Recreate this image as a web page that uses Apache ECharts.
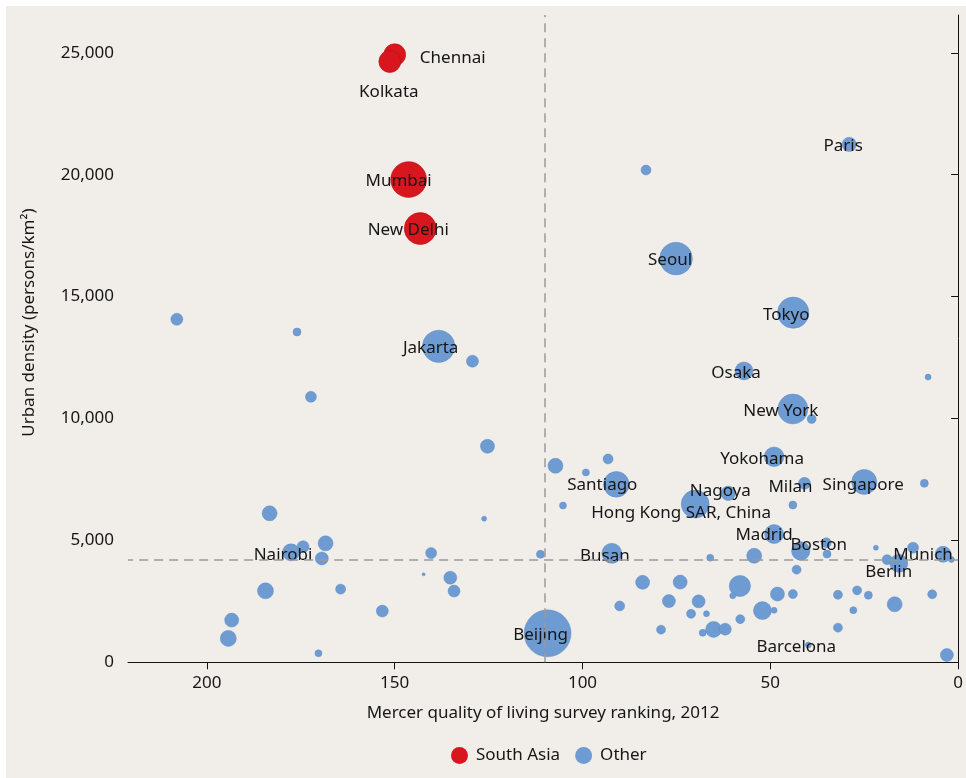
<!DOCTYPE html>
<html>
<head>
<meta charset="utf-8">
<script src="https://cdn.jsdelivr.net/npm/echarts@6/dist/echarts.min.js"></script>
<style>
html,body{margin:0;padding:0;background:#ffffff;width:966px;height:778px;overflow:hidden;}
#chart{position:absolute;left:6px;top:6px;width:960px;height:772px;background:#f1eee9;}
</style>
</head>
<body>
<div id="chart"></div>
<script>
// ---- Data ----
const xTicks = [0, 50, 100, 150, 200];
const yTicks = [0, 5000, 10000, 15000, 20000, 25000];
const refRank = 110;
const refDensity = 4200;

// South Asia
const saNames   = ['Chennai', 'Kolkata', 'Mumbai', 'New Delhi'];
const saRank    = [150, 151.3, 146.3, 143.2];
const saDensity = [24920, 24640, 19800, 17790];
const saPop     = [4.8, 4.8, 12.8, 10.2];

// Other (one name per point; '' = unlabelled)
const otNames = [
  '', '', '', '', 'Nairobi', '', '', '', '', '', '', '',
  'Jakarta', '', '', '', '', '', '', '', '', '', '', 'Beijing',
  'Paris', '', 'Seoul', 'Tokyo', 'Osaka', '', 'New York', '',
  '', '', '', 'Santiago', '', 'Hong Kong SAR, China', 'Nagoya', 'Busan',
  '', '', '', '', '', '', '', '', '', '', '', '', '', '', '', '', '',
  'Yokohama', 'Milan', 'Singapore', '', '', 'Madrid', 'Boston', '', '', '', '', '',
  'Berlin', 'Munich', '', '', '', '', '', '', '', '', '', '', '', '', 'Barcelona', ''];
const otRank = [
  208, 176, 172.3, 183.3, 177.6, 174.4, 168.4, 169.4, 184.4, 193.4, 194.3, 170.3,
  138.3, 129.3, 125.3, 126.2, 140.3, 111.2, 142.3, 135.2, 134.2, 164.4, 153.3, 109.3,
  29, 83.1, 75.1, 43.9, 57, 8, 44, 39,
  107.2, 93.2, 99.1, 91, 105.2, 70, 61.2, 92.2,
  66, 54.3, 84, 74, 58.1, 60, 90.1, 77, 69.1, 71.1, 67, 58, 52.1, 79.1, 68, 65.1, 62,
  49, 40.9, 25, 9, 44, 49, 41.9, 35.1, 34.9, 21.9, 12, 18.9,
  15.8, 4.0, 1.8, 43, 48.1, 44, 32, 26.9, 23.9, 16.9, 6.9, 49, 27.9, 32, 39.9, 3];
const otDensity = [
  14070, 13550, 10890, 6110, 4510, 4740, 4880, 4260, 2930, 1730, 980, 370,
  12960, 12350, 8860, 5890, 4480, 4430, 3610, 3470, 2920, 3000, 2100, 1190,
  21240, 20190, 16560, 14340, 11950, 11700, 10390, 9980,
  8060, 8340, 7790, 7300, 6430, 6490, 6930, 4470,
  4290, 4370, 3280, 3290, 3130, 2730, 2310, 2510, 2500, 1990, 1990, 1770, 2120, 1340, 1210, 1350, 1360,
  8430, 7340, 7400, 7340, 6450, 5260, 4570, 4900, 4440, 4700, 4700, 4210,
  4060, 4430, 4220, 3800, 2800, 2800, 2770, 2950, 2750, 2380, 2790, 2130, 2140, 1420, 710, 300];
const otPop = [
  1.44, 0.64, 1.21, 2.25, 2.9, 1.44, 2.25, 1.69, 2.56, 1.96, 2.56, 0.49,
  10.5, 1.44, 1.96, 0.25, 1.21, 0.64, 0.09, 1.69, 1.44, 1.0, 1.44, 22,
  2.05, 1.0, 10.7, 9.8, 3.24, 0.36, 9.0, 0.81,
  2.25, 1.0, 0.49, 6.6, 0.49, 7.8, 2.1, 4.0,
  0.49, 2.25, 1.96, 1.96, 4.5, 0.36, 1.0, 1.69, 1.69, 0.81, 0.36, 0.81, 3.24, 0.81, 0.49, 2.56, 1.44,
  3.85, 1.44, 6.25, 0.64, 0.64, 3.6, 3.4, 1.0, 0.64, 0.25, 1.21, 1.0,
  3.24, 2.56, 0.36, 0.81, 1.96, 0.81, 0.81, 0.81, 0.64, 2.25, 0.81, 0.36, 0.49, 0.81, 0.36, 1.69];

// label placement (pixel offsets from bubble centre)
const labelOffsets = {
  'Chennai': [58, 3], 'Kolkata': [-1, 31], 'Mumbai': [-10, 2], 'New Delhi': [-12, 2],
  'Jakarta': [-8, 2], 'Seoul': [-6, 2], 'Paris': [-6, 2], 'Tokyo': [-7, 2], 'Osaka': [-8, 2],
  'New York': [-12, 2], 'Yokohama': [-12, 2], 'Santiago': [-14, 1], 'Nagoya': [-8, -2],
  'Hong Kong SAR, China': [-14, 9], 'Milan': [-14, 4], 'Singapore': [-1, 3], 'Madrid': [-10, 1],
  'Boston': [18, -6], 'Busan': [-7, 3], 'Nairobi': [-8, 3], 'Beijing': [-7, 2],
  'Munich': [-20, 1], 'Berlin': [-10, 9], 'Barcelona': [-12, 2]
};

const FONT = '"Noto Sans", "Open Sans", sans-serif';
const TXT = '#161616';

function buildData(names, xs, ys, pops) {
  return names.map((n, i) => {
    const item = { name: n, value: [xs[i], ys[i], pops[i]] };
    if (n) {
      item.label = { show: true, formatter: n, position: 'inside', offset: labelOffsets[n] || [0, 0] };
    }
    return item;
  });
}

const chart = echarts.init(document.getElementById('chart'), null, { renderer: 'canvas' });

const labelStyle = { show: false, color: TXT, fontFamily: FONT, fontSize: 17 };

chart.setOption({
  backgroundColor: '#f1eee9',
  animation: false,
  textStyle: { fontFamily: FONT },
  grid: { left: 122, right: 6, top: 9, bottom: 115.7, containLabel: false },
  legend: {
    data: ['South Asia', 'Other'],
    top: 736, left: 440,
    icon: 'circle', itemWidth: 17, itemHeight: 17, itemGap: 15,
    itemStyle: { borderWidth: 0 },
    textStyle: { color: TXT, fontFamily: FONT, fontSize: 17, padding: [0, 0, 0, 3] }
  },
  xAxis: {
    type: 'value', inverse: true, min: 0, max: 221,
    name: 'Mercer quality of living survey ranking, 2012',
    nameLocation: 'middle', nameGap: 42,
    nameTextStyle: { color: TXT, fontFamily: FONT, fontSize: 17 },
    splitLine: { show: false },
    axisLine: { show: true, lineStyle: { color: '#111', width: 1 } },
    axisTick: { show: true, length: 7, lineStyle: { color: '#111' }, customValues: xTicks },
    axisLabel: { color: TXT, fontFamily: FONT, fontSize: 17, margin: 12, customValues: xTicks }
  },
  yAxis: {
    type: 'value', min: 0, max: 26550,
    name: 'Urban density (persons/km²)',
    nameLocation: 'middle', nameGap: 90, nameRotate: 90,
    nameTextStyle: { color: TXT, fontFamily: FONT, fontSize: 17, padding: [0, 0, 0, 32] },
    splitLine: { show: false },
    axisLine: { show: true, lineStyle: { color: '#111', width: 1 } },
    axisTick: { show: true, length: 7, lineStyle: { color: '#111' }, customValues: yTicks },
    axisLabel: {
      color: TXT, fontFamily: FONT, fontSize: 17, margin: 14, customValues: yTicks,
      formatter: v => v.toLocaleString('en-US')
    }
  },
  series: [
    {
      name: 'South Asia', type: 'scatter',
      symbolSize: d => 10 * Math.sqrt(d[2]),
      itemStyle: { color: '#d7161e', opacity: 1, borderColor: '#b80f16', borderWidth: 0.6 },
      label: labelStyle,
      emphasis: { disabled: true },
      data: buildData(saNames, saRank, saDensity, saPop),
      z: 3
    },
    {
      name: 'Other', type: 'scatter',
      symbolSize: d => 10 * Math.sqrt(d[2]),
      itemStyle: { color: '#6d9bd2', opacity: 1, borderColor: '#5f8fc8', borderWidth: 0.5 },
      label: labelStyle,
      emphasis: { disabled: true },
      data: buildData(otNames, otRank, otDensity, otPop),
      markLine: {
        silent: true, symbol: 'none', animation: false,
        label: { show: false },
        lineStyle: { color: '#9a9a9a', type: [9, 6], width: 1.5 },
        data: [{ xAxis: refRank }, { yAxis: refDensity }]
      },
      z: 2
    }
  ]
});
</script>
</body>
</html>
